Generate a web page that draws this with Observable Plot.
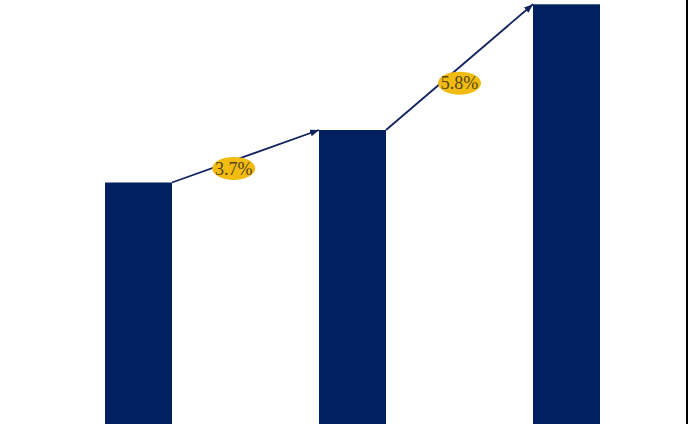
<!DOCTYPE html>
<html><head><meta charset="utf-8">
<script src="https://cdn.jsdelivr.net/npm/d3@7"></script>
<script src="https://cdn.jsdelivr.net/npm/@observablehq/plot@0.6"></script>
<style>
html,body{margin:0;padding:0;background:#fff;}
#chart{width:686px;height:424px;border-right:2px solid #000;overflow:hidden;}
#chart svg{display:block;}
</style></head><body><div id="chart"></div>
<script>
// Data read from the (cropped) reference: bar heights in chart units
const categories = ["Period 1", "Period 2", "Period 3"];
const values = [241.5, 294, 419.7];
const growthLabels = ["3.7%", "5.8%"];

const W = 686, H = 424;
const navy = "#00205f";
const data = categories.map((c, i) => ({c, v: values[i]}));

const plot = Plot.plot({
  width: W, height: H, margin: 0,
  x: {domain: categories, range: [31.35, 674.15], paddingInner: 0.687, paddingOuter: 0.3435, axis: null},
  y: {domain: [0, 424], axis: null},
  marks: [
    Plot.barY(data, {x: "c", y: "v", fill: navy})
  ]
});
document.getElementById("chart").appendChild(plot);

// Growth arrows + labels, positioned with the plot's own scales
const sx = plot.scale("x"), sy = plot.scale("y");
const bw = sx.bandwidth;
const svg = d3.select(plot);
svg.append("defs").append("marker")
  .attr("id", "ah").attr("markerUnits", "userSpaceOnUse")
  .attr("markerWidth", 10).attr("markerHeight", 8)
  .attr("refX", 9).attr("refY", 3.5).attr("orient", "auto")
  .append("path").attr("d", "M0,0L9,3.5L0,7Z").attr("fill", "#10235e");

const labelT = [0.42, 0.5];
const labelDy = [8, 16];
const g = svg.append("g");
for (let i = 0; i < categories.length - 1; i++) {
  const x1 = sx.apply(categories[i]) + bw, y1 = sy.apply(values[i]);
  const x2 = sx.apply(categories[i + 1]), y2 = sy.apply(values[i + 1]);
  g.append("line").attr("x1", x1).attr("y1", y1).attr("x2", x2).attr("y2", y2)
    .attr("stroke", "#10235e").attr("stroke-width", 1.8).attr("marker-end", "url(#ah)");
  const lx = x1 + (x2 - x1) * labelT[i], ly = y1 + (y2 - y1) * labelT[i] + labelDy[i];
  g.append("ellipse").attr("cx", lx).attr("cy", ly).attr("rx", 21.5).attr("ry", 11.5)
    .attr("fill", "#f2bb12");
  g.append("text").attr("x", lx).attr("y", ly).attr("dy", "0.35em")
    .attr("text-anchor", "middle")
    .style("font-family", "'Liberation Serif', 'Times New Roman', serif")
    .style("font-size", "18px").style("fill", "#55461a")
    .text(growthLabels[i]);
}
</script></body></html>
